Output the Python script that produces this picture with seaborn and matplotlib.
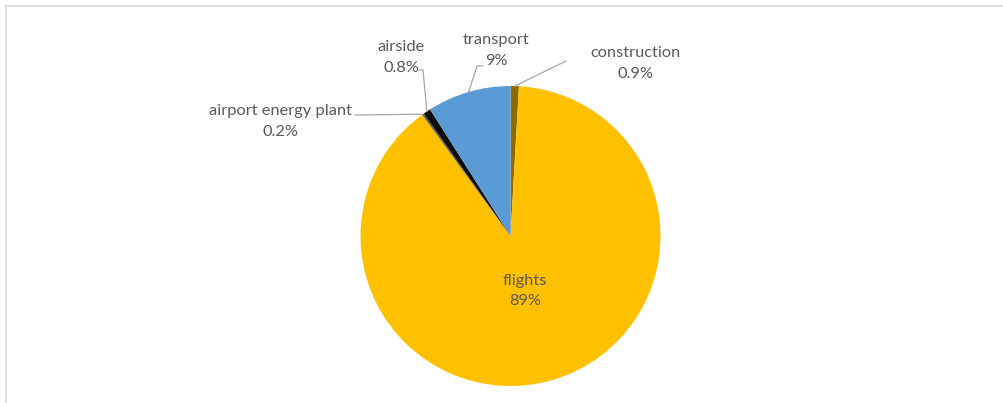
import numpy as np
import matplotlib
matplotlib.use("Agg")
import matplotlib.pyplot as plt
import seaborn as sns

# Emission shares by source (percent), in clockwise order from 12 o'clock
sources = ["construction", "flights", "airport energy plant", "airside", "transport"]
shares = [0.9, 89, 0.2, 0.8, 9]
share_labels = ["0.9%", "89%", "0.2%", "0.8%", "9%"]
colors = ["#8C6A00", "#FFC000", "#5A5A5A", "#0D0D0D", "#5B9BD5"]

sns.set_theme(style="white")
plt.rcParams["font.family"] = ["Lato", "DejaVu Sans"]

W, H = 1004, 403
fig = plt.figure(figsize=(W / 100, H / 100), dpi=100)
ax = fig.add_axes([0, 0, 1, 1])
ax.set_xlim(0, W)
ax.set_ylim(0, H)
ax.set_aspect("equal")
ax.axis("off")

# chart-area border (only the top and left edges fall inside the image)
ax.plot([6, 6, W + 10], [-10, H - 6, H - 6], color="#D9D9D9", lw=1.2,
        solid_joinstyle="miter")

cx, cy, r = 510.5, H - 236, 150
wedges, _ = ax.pie(shares, colors=colors, startangle=90, counterclock=False,
                   center=(cx, cy), radius=r, frame=True,
                   wedgeprops=dict(linewidth=0))
ax.set_xlim(0, W)
ax.set_ylim(0, H)
ax.axis("off")

txt_color = "#595959"
fs = 11.8

# label anchor positions (pixels from top-left) and leader elbows
label_pos = {
    "construction": (636, 53),
    "flights": (525, 281),
    "airport energy plant": (281, 111),
    "airside": (401, 47),
    "transport": (496, 40),
}
elbows = {
    "construction": [(566, 61)],
    "airport energy plant": [(355, 115)],
    "airside": [(423, 70), (419, 70)],
    "transport": [(477, 66), (483, 66)],
}

for w, name, lab in zip(wedges, sources, share_labels):
    lx, ly = label_pos[name]
    if name == "flights":
        ax.text(lx, H - ly, name, ha="center", va="center", fontsize=fs, color=txt_color)
        ax.text(lx, H - ly - 20, lab, ha="center", va="center", fontsize=fs, color=txt_color)
        continue
    ax.text(lx, H - ly, name, ha="center", va="center", fontsize=fs, color=txt_color)
    ax.text(lx, H - ly - 21, lab, ha="center", va="center", fontsize=fs, color=txt_color)
    mid = np.deg2rad((w.theta1 + w.theta2) / 2)
    px, py = cx + r * np.cos(mid), cy + r * np.sin(mid)
    pts = [(px, py)] + [(x, H - y) for x, y in elbows[name]]
    xs, ys = zip(*pts)
    ax.plot(xs, ys, color="#A6A6A6", lw=0.9)

fig.savefig("out.png", dpi=100)
